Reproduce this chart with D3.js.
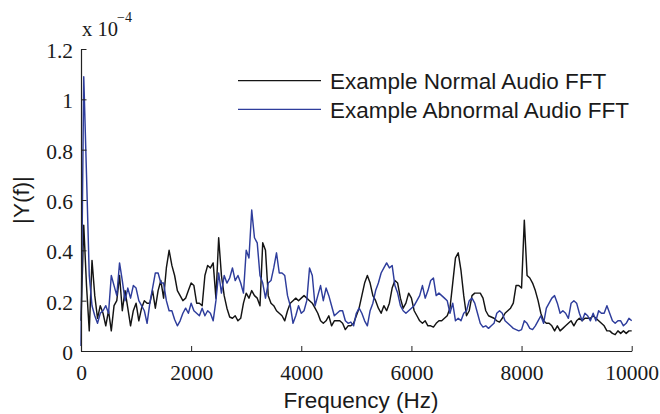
<!DOCTYPE html>
<html>
<head>
<meta charset="utf-8">
<script src="https://cdn.jsdelivr.net/npm/d3@7"></script>
<style>
    body { margin: 0; background: #fff; }
    svg { display: block; }
</style>
</head>
<body>
<script>
const w = 660;
const h = 414;

// FFT bins every 50 Hz, magnitudes in units of 1e-4
const freqStep = 50;

const normalFFT = [
    0.12, 0.50, 0.26, 0.08, 0.36, 0.22, 0.13, 0.18, 0.15, 0.10, 0.16, 0.08, 0.18, 0.20, 0.30, 0.16, 0.24, 0.17, 0.10, 0.16,
    0.19, 0.12, 0.17, 0.20, 0.19, 0.19, 0.24, 0.17, 0.24, 0.28, 0.21, 0.33, 0.40, 0.34, 0.30, 0.24, 0.22, 0.20, 0.21, 0.24,
    0.27, 0.26, 0.19, 0.19, 0.18, 0.30, 0.34, 0.33, 0.35, 0.21, 0.45, 0.30, 0.22, 0.17, 0.135, 0.13, 0.14, 0.12, 0.13, 0.19,
    0.23, 0.21, 0.24, 0.22, 0.21, 0.18, 0.43, 0.40, 0.22, 0.19, 0.18, 0.16, 0.15, 0.14, 0.12, 0.16, 0.19, 0.20, 0.21, 0.20,
    0.21, 0.22, 0.21, 0.20, 0.19, 0.17, 0.15, 0.12, 0.11, 0.12, 0.14, 0.10, 0.12, 0.12, 0.12, 0.11, 0.085, 0.10, 0.10, 0.11,
    0.14, 0.17, 0.22, 0.27, 0.30, 0.27, 0.22, 0.20, 0.17, 0.15, 0.18, 0.16, 0.19, 0.25, 0.28, 0.27, 0.21, 0.17, 0.19, 0.23,
    0.21, 0.16, 0.14, 0.12, 0.11, 0.12, 0.10, 0.10, 0.095, 0.11, 0.12, 0.12, 0.13, 0.14, 0.17, 0.27, 0.37, 0.39, 0.32, 0.22,
    0.14, 0.16, 0.22, 0.23, 0.23, 0.23, 0.21, 0.16, 0.14, 0.135, 0.13, 0.12, 0.115, 0.13, 0.15, 0.16, 0.17, 0.19, 0.26, 0.26,
    0.25, 0.52, 0.30, 0.29, 0.27, 0.24, 0.20, 0.15, 0.12, 0.11, 0.11, 0.10, 0.08, 0.10, 0.08, 0.09, 0.10, 0.11, 0.12, 0.10,
    0.12, 0.13, 0.12, 0.13, 0.13, 0.13, 0.14, 0.13, 0.12, 0.11, 0.10, 0.08, 0.08, 0.07, 0.065, 0.08, 0.07, 0.08, 0.07, 0.08,
    0.08
];

const abnormalFFT = [
    0.02, 1.09, 0.70, 0.30, 0.18, 0.14, 0.11, 0.15, 0.16, 0.18, 0.15, 0.30, 0.26, 0.22, 0.35, 0.28, 0.20, 0.25, 0.21, 0.26,
    0.25, 0.20, 0.18, 0.16, 0.11, 0.19, 0.25, 0.31, 0.31, 0.27, 0.27, 0.20, 0.16, 0.16, 0.125, 0.10, 0.12, 0.15, 0.17, 0.15,
    0.19, 0.16, 0.15, 0.14, 0.17, 0.14, 0.16, 0.15, 0.12, 0.20, 0.31, 0.23, 0.30, 0.27, 0.29, 0.33, 0.28, 0.30, 0.27, 0.23,
    0.40, 0.37, 0.56, 0.45, 0.43, 0.30, 0.27, 0.21, 0.27, 0.28, 0.33, 0.39, 0.31, 0.31, 0.30, 0.22, 0.18, 0.11, 0.14, 0.18,
    0.15, 0.16, 0.20, 0.33, 0.30, 0.18, 0.22, 0.26, 0.20, 0.25, 0.22, 0.18, 0.14, 0.15, 0.16, 0.16, 0.12, 0.11, 0.115, 0.10,
    0.15, 0.17, 0.15, 0.12, 0.10, 0.16, 0.19, 0.24, 0.27, 0.31, 0.33, 0.35, 0.33, 0.34, 0.26, 0.23, 0.18, 0.16, 0.15, 0.16,
    0.17, 0.18, 0.20, 0.22, 0.26, 0.21, 0.24, 0.28, 0.29, 0.22, 0.23, 0.22, 0.21, 0.20, 0.15, 0.19, 0.12, 0.13, 0.12, 0.15,
    0.16, 0.20, 0.21, 0.19, 0.15, 0.11, 0.095, 0.10, 0.09, 0.10, 0.11, 0.15, 0.16, 0.15, 0.12, 0.11, 0.10, 0.09, 0.085, 0.08,
    0.085, 0.12, 0.11, 0.09, 0.085, 0.10, 0.12, 0.14, 0.11, 0.17, 0.19, 0.21, 0.22, 0.19, 0.15, 0.16, 0.15, 0.13, 0.19, 0.20,
    0.19, 0.15, 0.12, 0.15, 0.14, 0.12, 0.15, 0.12, 0.16, 0.15, 0.15, 0.18, 0.15, 0.12, 0.11, 0.12, 0.12, 0.10, 0.11, 0.13,
    0.12
];

const xTicks = [0, 2000, 4000, 6000, 8000, 10000];
const xTickLabels = ["0", "2000", "4000", "6000", "8000", "10000"];
const yTicks = [0, 0.2, 0.4, 0.6, 0.8, 1.0, 1.2];
const yTickLabels = ["0", "0.2", "0.4", "0.6", "0.8", "1", "1.2"];

const seriesNames = ["Example Normal Audio FFT", "Example Abnormal Audio FFT"];
const seriesColors = ["#141414", "#2e3d9c"];

const serif = "'Liberation Serif', 'Times New Roman', serif";
const sans = "'Liberation Sans', Arial, Helvetica, sans-serif";

const svg = d3.select("body")
    .append("svg")
    .attr("width", w)
    .attr("height", h)
    ;

const xScale = d3.scaleLinear()
    .domain([0, 10000])
    .range([81, 631.7])
    ;

const yScale = d3.scaleLinear()
    .domain([0, 1.2])
    .range([351, 49])
    ;

// curves first so the axes sit on top
const line = d3.line()
    .x((d, i) => xScale(i * freqStep))
    .y(d => yScale(d))
    ;

[normalFFT, abnormalFFT].forEach((vals, k) => {
    svg.append("path")
        .datum(vals)
        .attr("d", line)
        .attr("fill", "none")
        .attr("stroke", seriesColors[k])
        .attr("stroke-width", 1.45)
        .attr("stroke-linejoin", "round")
        ;
});

const xAxis = d3.axisBottom(xScale)
    .tickValues(xTicks)
    .tickFormat((d, i) => xTickLabels[i])
    .tickSizeInner(-5)
    .tickSizeOuter(0)
    .tickPadding(14)
    ;

const yAxis = d3.axisLeft(yScale)
    .tickValues(yTicks)
    .tickFormat((d, i) => yTickLabels[i])
    .tickSizeInner(-5.5)
    .tickSizeOuter(0)
    .tickPadding(8)
    ;

const gx = svg.append("g")
    .attr("transform", "translate(0, 351)")
    .call(xAxis)
    ;

const gy = svg.append("g")
    .attr("transform", "translate(81, 0)")
    .call(yAxis)
    ;

[gx, gy].forEach(g => {
    g.select(".domain").attr("stroke", "#222").attr("stroke-width", 1.2);
    g.selectAll(".tick line").attr("stroke", "#222").attr("stroke-width", 1);
    g.selectAll(".tick text")
        .attr("fill", "#1a1a1a")
        .style("font-family", serif)
        .style("font-size", "21.5px")
        ;
});
gy.selectAll(".tick text").attr("dy", "0.4em");

// exponent label
svg.append("text")
    .attr("x", 82)
    .attr("y", 36)
    .style("font-family", serif)
    .style("font-size", "20.5px")
    .attr("fill", "#1a1a1a")
    .text("x 10")
    ;
svg.append("text")
    .attr("x", 117)
    .attr("y", 22)
    .style("font-family", serif)
    .style("font-size", "14px")
    .attr("fill", "#1a1a1a")
    .text("\u22124")
    ;

// axis titles
svg.append("text")
    .attr("x", 361)
    .attr("y", 408)
    .attr("text-anchor", "middle")
    .style("font-family", sans)
    .style("font-size", "22.5px")
    .attr("fill", "#1a1a1a")
    .text("Frequency (Hz)")
    ;

svg.append("text")
    .attr("transform", "translate(29, 200) rotate(-90)")
    .attr("text-anchor", "middle")
    .style("font-family", sans)
    .style("font-size", "22.5px")
    .attr("fill", "#1a1a1a")
    .text("|Y(f)|")
    ;

// legend
const legend = svg.append("g");
seriesNames.forEach((name, k) => {
    const y0 = 80.7 + k * 28.6;
    legend.append("line")
        .attr("x1", 238)
        .attr("x2", 321)
        .attr("y1", y0)
        .attr("y2", y0)
        .attr("stroke", seriesColors[k])
        .attr("stroke-width", 1.3)
        ;
    legend.append("text")
        .attr("x", 330)
        .attr("y", y0 + 8.6)
        .style("font-family", sans)
        .style("font-size", "22.5px")
        .attr("fill", "#1a1a1a")
        .text(name)
        ;
});
</script>
</body>
</html>
